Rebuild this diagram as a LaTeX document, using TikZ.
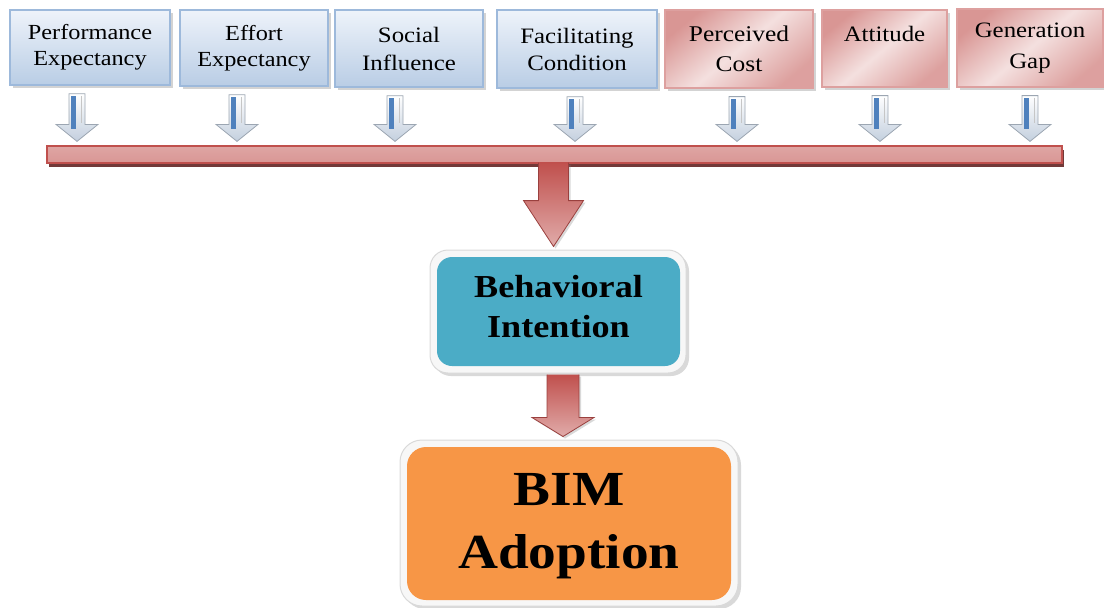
\documentclass[tikz,border=0pt]{standalone}
\usepackage{fontspec}
\setmainfont[FakeStretch=1.13]{Liberation Serif}
\usetikzlibrary{calc,shadows}
\definecolor{bluetop}{HTML}{EEF3FA}
\definecolor{bluebot}{HTML}{B9CDE5}
\definecolor{blueline}{HTML}{9DB9DB}
\definecolor{redtop}{HTML}{F4E0DF}
\definecolor{redbot}{HTML}{D99694}
\definecolor{redline}{HTML}{C0504D}
\definecolor{darkred}{HTML}{632523}
\definecolor{bitmp}{HTML}{4BACC6}
\definecolor{bimorange}{HTML}{F79646}
\definecolor{stripblue}{HTML}{4F81BD}
\definecolor{headgray}{HTML}{C3CFDE}
\begin{document}
\begin{tikzpicture}[x=1pt,y=-1pt,
    bluebox/.style={draw=blueline,line width=1.5pt,top color=bluetop,bottom color=bluebot,
      align=center,inner sep=0pt,font=\fontsize{21.5}{26}\selectfont,
      drop shadow={shadow xshift=3pt,shadow yshift=-3pt,opacity=0.35}},
    redbox/.style={draw=redbot!90,line width=1.2pt,top color=redbot,bottom color=redbot!90,middle color=redtop,
      shading angle=40,align=center,inner sep=0pt,font=\fontsize{22.5}{30}\selectfont,
      drop shadow={shadow xshift=3pt,shadow yshift=-3pt,opacity=0.35}},
    framebox/.style={draw=gray!30,fill=gray!6,line width=1pt,
      drop shadow={shadow xshift=3pt,shadow yshift=-3pt,opacity=0.3}},
    smallarrow/.style={top color=white,bottom color=headgray,draw=headgray!80!black,line width=0.8pt},
    bigarrow/.style={top color=redline,bottom color=redbot!80,draw=redline!80!black,line width=0.8pt,
      drop shadow={shadow xshift=2pt,shadow yshift=-2pt,opacity=0.3}}]
\useasboundingbox (0,0) rectangle (1104,608);

\node [bluebox,minimum width=160,minimum height=75] (pe) at (90,47.5) {Performance\\Expectancy};
\node [bluebox,minimum width=148,minimum height=76] (ee) at (254,48) {Effort\\Expectancy};
\node [bluebox,minimum width=148,minimum height=77,font=\fontsize{22}{28}\selectfont] (si) at (409,48.5) {Social\\Influence};
\node [bluebox,minimum width=160,minimum height=78,font=\fontsize{22}{27}\selectfont] (fc) at (577,49) {Facilitating\\Condition};
\node [redbox,minimum width=148,minimum height=78] (pc) at (739,49) {Perceived\\Cost};
\node [redbox,minimum width=125,minimum height=77,font=\fontsize{22}{22}\selectfont] (at) at (884.5,48.5) {Attitude\\\strut};
\node [redbox,minimum width=146,minimum height=78,font=\fontsize{22}{31}\selectfont] (gg) at (1030,48) {Generation\\Gap};

\node [draw=redline,line width=1.2pt,top color=redbot!85,bottom color=redbot,inner sep=0pt,
  minimum width=1015,minimum height=17,
  drop shadow={shadow xshift=1.5pt,shadow yshift=-3.5pt,fill=darkred,opacity=0.9}] (bar) at (554.5,154.5) {};

\foreach \n/\dx in {pe/-13,ee/-17,si/-14,fc/-2,pc/-2,at/-4.5,gg/0}{
  \coordinate (a) at ($(\n.south)+(\dx,0)$);
  \coordinate (b) at (a |- bar.north);
  \draw [smallarrow] ($(a)+(-8,8)$) -- ($(b)+(-8,-21)$) -- ($(b)+(-21,-21)$) -- ($(b)+(0,-4)$)
    -- ($(b)+(21,-21)$) -- ($(b)+(8,-21)$) -- ($(a)+(8,8)$) -- cycle;
  \fill [stripblue] ($(a)+(-6,10)$) rectangle ($(b)+(-1,-16)$);
  \draw [gray!45,line width=1pt] ($(a)+(4,10)$) -- ($(b)+(4,-22)$);
}

\node [framebox,rounded corners=18,minimum width=256,minimum height=123] (bif) at (558,311.5) {};
\node [fill=bitmp,rounded corners=15,minimum width=243,minimum height=109,inner sep=0pt,
  label={[align=center,yshift=5pt,font=\fontsize{32}{40}\selectfont\bfseries]center:Behavioral\\Intention}] (bi) at (558.5,311.5) {};

\node [framebox,rounded corners=22,minimum width=338,minimum height=166] (bimf) at (569,523) {};
\node [fill=bimorange,rounded corners=19,minimum width=324,minimum height=153,inner sep=0pt,
  label={[align=center,yshift=-3pt,font=\fontsize{49}{63}\selectfont\bfseries]center:BIM\\Adoption}] (bim) at (569,523.5) {};

\coordinate (p) at ($(bar.south)+(-1,0)$);
\coordinate (q) at (p |- bif.north);
\draw [bigarrow] ($(p)+(-15,-1)$) -- ($(p)+(-15,37)$) -- ($(p)+(-30,37)$) -- ($(q)+(0,-3)$)
  -- ($(p)+(30,37)$) -- ($(p)+(15,37)$) -- ($(p)+(15,-1)$);

\coordinate (r) at ($(bif.south)+(5,0)$);
\coordinate (s) at (r |- bimf.north);
\draw [bigarrow] ($(r)+(-16,1)$) -- ($(s)+(-16,-22)$) -- ($(s)+(-31,-22)$) -- ($(s)+(0,-3)$)
  -- ($(s)+(31,-22)$) -- ($(s)+(16,-22)$) -- ($(r)+(16,1)$);
\end{tikzpicture}
\end{document}
